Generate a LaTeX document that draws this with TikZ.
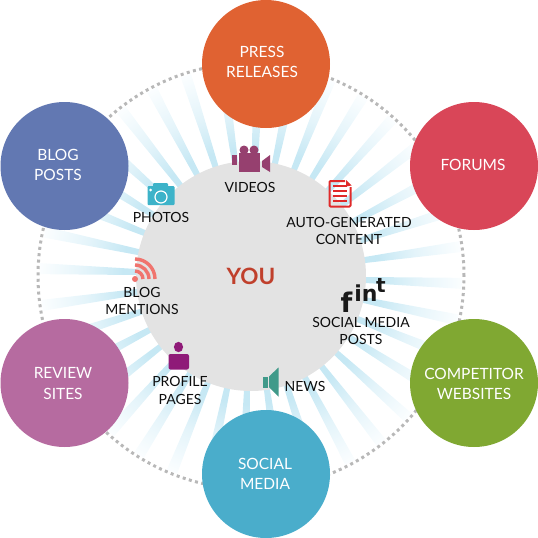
\documentclass[tikz,border=0pt]{standalone}
\usepackage{fontspec}
\setmainfont{Lato}
\newfontfamily\glyphfont{DejaVu Sans}
\usetikzlibrary{calc}
\definecolor{pressclr}{HTML}{E06232}
\definecolor{forumclr}{HTML}{D94658}
\definecolor{blogclr}{HTML}{6278B2}
\definecolor{reviewclr}{HTML}{B66BA0}
\definecolor{socialclr}{HTML}{4AADCB}
\definecolor{compclr}{HTML}{80A832}
\definecolor{hubclr}{HTML}{E3E3E3}
\definecolor{rayclr}{HTML}{C6E8F4}
\definecolor{rayclrb}{HTML}{E4F4FA}
\definecolor{rayclrc}{HTML}{FCFEFF}
\definecolor{dotclr}{HTML}{B8B8B8}
\definecolor{youclr}{HTML}{C0402C}
\definecolor{videoclr}{HTML}{96406F}
\definecolor{photoclr}{HTML}{3DB3C9}
\definecolor{docclr}{HTML}{E02A2A}
\definecolor{rssclr}{HTML}{F0746E}
\definecolor{userclr}{HTML}{8F1A78}
\definecolor{newsclr}{HTML}{409A8A}
\pgfdeclareradialshading{rayfade}{\pgfpoint{0bp}{0bp}}{
  color(0bp)=(rayclr); color(15bp)=(rayclr); color(19.5bp)=(rayclrb); color(25bp)=(rayclrc); color(50bp)=(rayclrc)}
\tikzset{
  bubble/.style={circle,minimum size=128pt,inner sep=0pt,text=white},
  bubbletxt/.style={align=center,text=white,inner sep=0pt,font=\fontsize{15.5}{20.5}\selectfont},
  itemtxt/.style={align=center,text=black!95,inner sep=0pt,font=\fontsize{14}{17.5}\selectfont},
  socialglyph/.style={inner sep=0pt,text=black!90}
}
\begin{document}
\begin{tikzpicture}[x=1pt,y=-1pt]
\useasboundingbox (0,0) rectangle (538,538);
\coordinate (you) at (251,276);

% dotted ring and rays
\draw [dotclr,line width=3pt,dash pattern=on 3pt off 3.4pt] (you) circle [radius=213pt];
\begin{scope}
\clip \foreach \a in {-8,-18,...,-358} {
  (you) -- ($(you)+(\a-1.5:211)$) -- ($(you)+(\a+1.5:211)$) -- cycle
};
\shade [shading=rayfade] (you) circle [radius=213pt];
\end{scope}

% hub
\fill [hubclr] (you) circle [radius=115pt];

% outer circles
\node (press) [bubble,fill=pressclr] at (266,64) {};
\node (forums) [bubble,fill=forumclr] at (474,166) {};
\node (comp) [bubble,fill=compclr] at (474,383) {};
\node (social) [bubble,fill=socialclr] at (266,474) {};
\node (review) [bubble,fill=reviewclr] at (64.5,383) {};
\node (blog) [bubble,fill=blogclr] at (64.5,166) {};

\node (presstxt) [bubbletxt] at (262,62) {PRESS\\RELEASES};
\node (forumstxt) [bubbletxt] at (473,165) {FORUMS};
\node (comptxt) [bubbletxt] at (474,384) {COMPETITOR\\WEBSITES};
\node (socialtxt) [bubbletxt] at (265,474) {SOCIAL\\MEDIA};
\node (reviewtxt) [bubbletxt] at (63,383.5) {REVIEW\\SITES};
\node (blogtxt) [bubbletxt] at (58,165) {BLOG\\POSTS};

% labels
\node (youtxt) [text=youclr,inner sep=0pt,font=\fontsize{22.5}{22.5}\selectfont\bfseries] at (251,276) {YOU};
\node (videos) [itemtxt] at (250,187) {VIDEOS};
\node (photos) [itemtxt] at (161,217.5) {PHOTOS};
\node (autogen) [itemtxt] at (349,231) {AUTO-GENERATED\\CONTENT};
\node (mentions) [itemtxt] at (142,301) {BLOG\\MENTIONS};
\node (posts) [itemtxt] at (361,331) {SOCIAL MEDIA\\POSTS};
\node (pages) [itemtxt] at (180,390.5) {PROFILE\\PAGES};
\node (news) [itemtxt] at (305,386) {NEWS};

% video icon
\fill [videoclr] (244,150) circle [radius=4.5pt];
\fill [videoclr] (254,150) circle [radius=4.5pt];
\fill [videoclr] (238.5,153) rectangle (260,172);
\fill [videoclr] (232,155) rectangle (236.5,165);
\fill [videoclr] (262,161) -- (270,155) -- (270,172) -- (262,167) -- cycle;

% photo icon
\fill [photoclr,rounded corners=1pt] (147.5,186) rectangle (174.5,205);
\fill [photoclr,rounded corners=1pt] (153,183) rectangle (168,188);
\draw [white,line width=1.2pt] (161,197) circle [radius=6pt];
\fill [white] (150.7,190) circle [radius=1.5pt];

% document icon
\draw [docclr,line width=2pt,line join=round,rounded corners=1pt]
  (345,181) -- (329.5,181) -- (329.5,206.5) -- (350.5,206.5) -- (350.5,187);
\fill [docclr] (346,180) -- (351.5,185.5) -- (346,186.5) -- cycle;
\foreach \y in {186,191,196,201} {
  \draw [docclr,line width=1.6pt] (333,\y) -- (347,\y);
}

% rss icon
\coordinate (rss) at (135,279);
\fill [rssclr] (rss) circle [radius=3pt];
\draw [rssclr,line width=3.4pt] ($(rss)+(0,-8)$) arc [start angle=90,end angle=0,radius=8pt];
\draw [rssclr,line width=3.4pt] ($(rss)+(0,-14)$) arc [start angle=90,end angle=0,radius=14pt];
\draw [rssclr,line width=3.4pt] ($(rss)+(0,-20)$) arc [start angle=90,end angle=0,radius=20pt];

% profile icon
\fill [userclr] (178.5,347) ellipse [x radius=4.6pt,y radius=5.2pt];
\fill [userclr,rounded corners=2pt] (168.5,369.5) -- (168.5,354) -- (189,354) -- (189,369.5) -- cycle;

% news icon
\fill [newsclr] (262.5,376.5) rectangle (268,387.5);
\fill [newsclr] (269,376.5) -- (278.5,367.5) -- (278.5,396.5) -- (269,387) -- cycle;

% social glyphs
\node (fglyph) [socialglyph,font=\fontsize{27}{27}\glyphfont\bfseries] at (346.5,302) {f};
\node (inglyph) [socialglyph,font=\fontsize{22}{22}\glyphfont\bfseries] at (366,293) {in};
\node (tglyph) [socialglyph,font=\fontsize{20}{20}\glyphfont\bfseries] at (381,285.5) {t};
\end{tikzpicture}
\end{document}
